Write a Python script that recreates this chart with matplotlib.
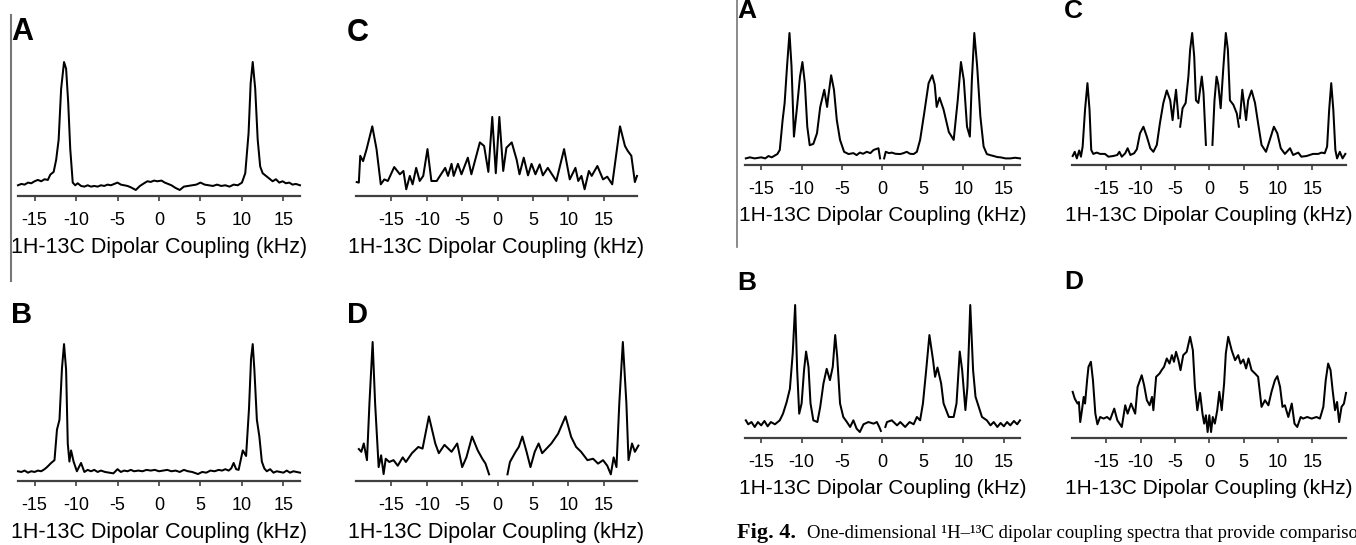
import numpy as np
import matplotlib
matplotlib.use('Agg')
import matplotlib.pyplot as plt
from matplotlib.lines import Line2D

plt.rcParams['font.family'] = ['Liberation Sans', 'DejaVu Sans']
plt.rcParams['axes.unicode_minus'] = False

W, H = 1356, 545
nan = float('nan')

tick_values = [-15, -10, -5, 0, 5, 10, 15]
axis_label = '1H-13C Dipolar Coupling (kHz)'
caption_bold = 'Fig. 4.'
caption_text = 'One-dimensional \u00b9H\u2013\u00b9\u00b3C dipolar coupling spectra that provide compariso'

# spectra: (coupling in kHz, relative intensity); nan breaks the trace
left_a = [(-17, 0.08), (-16.6, 0.09), (-16.2, 0.085), (-15.8, 0.10), (-15.4, 0.095), (-15.0, 0.11),
          (-14.6, 0.12), (-14.2, 0.11), (-13.8, 0.125), (-13.4, 0.12), (-13.1, 0.16), (-12.7, 0.18),
          (-12.4, 0.27), (-12.1, 0.42), (-11.8, 0.80), (-11.45, 1.0), (-11.2, 0.95), (-10.95, 0.70),
          (-10.7, 0.35), (-10.4, 0.10), (-10.1, 0.08), (-9.8, 0.095), (-9.4, 0.075), (-9.0, 0.07),
          (-8.6, 0.08), (-8.2, 0.07), (-7.8, 0.075), (-7.4, 0.07), (-7.0, 0.08), (-6.6, 0.075),
          (-6.2, 0.085), (-5.8, 0.08), (-5.4, 0.09), (-5.0, 0.10), (-4.6, 0.085), (-4.2, 0.08),
          (-3.8, 0.075), (-3.4, 0.065), (-2.8, 0.045), (-2.3, 0.075), (-1.8, 0.095), (-1.4, 0.11),
          (-1.0, 0.105), (-0.6, 0.115), (-0.2, 0.11), (0.3, 0.115), (0.7, 0.10), (1.1, 0.09),
          (1.5, 0.08), (2.0, 0.06), (2.5, 0.045), (3.0, 0.07), (3.5, 0.075), (4.0, 0.08),
          (4.5, 0.085), (5.0, 0.10), (5.5, 0.085), (6.0, 0.08), (6.5, 0.075), (7.0, 0.085),
          (7.5, 0.075), (8.0, 0.08), (8.5, 0.07), (9.0, 0.085), (9.5, 0.08), (10.0, 0.10),
          (10.4, 0.17), (10.8, 0.47), (11.05, 0.84), (11.3, 1.0), (11.6, 0.80), (11.9, 0.42),
          (12.2, 0.22), (12.5, 0.17), (12.9, 0.15), (13.3, 0.13), (13.7, 0.11), (14.1, 0.125),
          (14.5, 0.10), (14.9, 0.11), (15.3, 0.095), (15.7, 0.10), (16.1, 0.085), (16.5, 0.09),
          (17.0, 0.08)]

left_b = [(-17, 0.07), (-16.6, 0.065), (-16.2, 0.075), (-15.8, 0.06), (-15.4, 0.07), (-15.0, 0.065),
          (-14.6, 0.075), (-14.2, 0.07), (-13.8, 0.085), (-13.5, 0.10), (-13.0, 0.13), (-12.6, 0.15),
          (-12.3, 0.37), (-12.0, 0.44), (-11.7, 0.81), (-11.45, 0.985), (-11.2, 0.80), (-11.0, 0.27),
          (-10.8, 0.14), (-10.6, 0.22), (-10.3, 0.14), (-9.9, 0.07), (-9.4, 0.13), (-9.0, 0.065),
          (-8.6, 0.08), (-8.2, 0.07), (-7.8, 0.08), (-7.4, 0.065), (-7.0, 0.075), (-6.5, 0.065),
          (-6.0, 0.06), (-5.5, 0.055), (-5.0, 0.085), (-4.6, 0.065), (-4.2, 0.075), (-3.8, 0.07),
          (-3.4, 0.08), (-3.0, 0.07), (-2.5, 0.075), (-2.0, 0.07), (-1.5, 0.08), (-1.0, 0.075),
          (-0.5, 0.08), (0.0, 0.07), (0.5, 0.075), (1.0, 0.08), (1.5, 0.07), (2.0, 0.075),
          (2.5, 0.065), (3.0, 0.08), (3.5, 0.07), (4.0, 0.065), (4.7, 0.05), (5.2, 0.065),
          (5.7, 0.06), (6.2, 0.075), (6.7, 0.07), (7.2, 0.08), (7.6, 0.075), (8.0, 0.085),
          (8.4, 0.075), (8.7, 0.09), (9.0, 0.13), (9.3, 0.085), (9.6, 0.08), (10.1, 0.22),
          (10.5, 0.18), (10.85, 0.52), (11.1, 0.88), (11.3, 0.985), (11.5, 0.80), (11.8, 0.44),
          (12.1, 0.32), (12.4, 0.14), (12.7, 0.09), (13.0, 0.07), (13.4, 0.085), (13.8, 0.06),
          (14.2, 0.07), (14.6, 0.065), (15.0, 0.06), (15.4, 0.075), (15.8, 0.06), (16.2, 0.07),
          (16.6, 0.065), (17.0, 0.06)]

left_c = [(-19.9, 0.104), (-19.6, 0.10), (-19.4, 0.30), (-19.0, 0.26), (-18.5, 0.35), (-17.7, 0.52),
          (-17.1, 0.35), (-16.5, 0.087), (-16.0, 0.124), (-15.5, 0.112), (-14.6, 0.216), (-13.8, 0.162),
          (-13.3, 0.187), (-12.9, 0.05), (-12.4, 0.15), (-12.0, 0.087), (-11.5, 0.21), (-11.0, 0.112),
          (-10.5, 0.15), (-9.9, 0.35), (-9.35, 0.112), (-8.6, 0.112), (-7.4, 0.21), (-7.0, 0.15),
          (-6.5, 0.24), (-6.2, 0.15), (-5.6, 0.24), (-5.1, 0.162), (-4.2, 0.286), (-3.7, 0.162),
          (-2.5, 0.40), (-1.9, 0.373), (-1.3, 0.18), (-0.75, 0.59), (-0.25, 0.17), (0.25, 0.59),
          (0.8, 0.187), (1.25, 0.36), (2.0, 0.40), (2.7, 0.27), (3.1, 0.162), (3.7, 0.286),
          (4.3, 0.154), (4.8, 0.24), (5.35, 0.162), (5.95, 0.236), (6.4, 0.154), (7.1, 0.21),
          (8.3, 0.112), (9.4, 0.35), (10.2, 0.124), (11.0, 0.21), (11.4, 0.112), (11.85, 0.15),
          (12.3, 0.05), (12.9, 0.187), (13.3, 0.15), (14.1, 0.224), (14.9, 0.124), (15.5, 0.144),
          (16.2, 0.087), (17.3, 0.52), (18.0, 0.373), (18.4, 0.336), (18.9, 0.30), (19.4, 0.104),
          (19.7, 0.15)]

left_d = [(-19.6, 0.23), (-19.25, 0.21), (-18.9, 0.27), (-18.45, 0.15), (-18.1, 0.56), (-17.65, 1.0),
          (-17.3, 0.56), (-16.8, 0.10), (-16.45, 0.185), (-16.1, 0.05), (-15.8, 0.16), (-15.3, 0.137),
          (-14.7, 0.15), (-14.1, 0.11), (-13.4, 0.17), (-12.95, 0.137), (-12.1, 0.20), (-11.2, 0.245),
          (-10.6, 0.233), (-9.7, 0.465), (-8.8, 0.27), (-8.3, 0.20), (-7.5, 0.26), (-6.5, 0.21),
          (-5.7, 0.27), (-5.0, 0.10), (-4.4, 0.17), (-3.6, 0.32), (-2.8, 0.22), (-2.15, 0.16),
          (-1.7, 0.125), (-1.2, 0.048), (nan, nan), (1.4, 0.048), (1.75, 0.137), (2.55, 0.21),
          (3.0, 0.245), (3.5, 0.32), (4.1, 0.21), (4.65, 0.10), (5.25, 0.21), (5.8, 0.27),
          (6.3, 0.20), (7.6, 0.27), (8.55, 0.34), (9.6, 0.465), (10.4, 0.317), (11.1, 0.245),
          (11.8, 0.21), (12.7, 0.15), (13.5, 0.16), (14.2, 0.125), (14.9, 0.15), (15.5, 0.11),
          (16.0, 0.048), (16.4, 0.17), (16.8, 0.10), (17.2, 0.56), (17.7, 1.0), (18.2, 0.56),
          (18.5, 0.15), (19.0, 0.27), (19.4, 0.21), (19.9, 0.255)]

right_a = [(-16.9, 0.05), (-16.4, 0.058), (-15.8, 0.05), (-15.0, 0.058), (-14.5, 0.05), (-14.1, 0.068),
           (-13.7, 0.058), (-13.0, 0.083), (-12.7, 0.114), (-12.35, 0.34), (-12.1, 0.47), (-11.8, 0.75),
           (-11.5, 1.0), (-11.25, 0.75), (-10.95, 0.215), (-10.6, 0.42), (-10.2, 0.67), (-9.9, 0.78),
           (-9.6, 0.62), (-9.3, 0.29), (-9.0, 0.15), (-8.55, 0.16), (-8.1, 0.24), (-7.7, 0.44),
           (-7.2, 0.57), (-6.85, 0.44), (-6.7, 0.52), (-6.35, 0.68), (-6.0, 0.57), (-5.65, 0.34),
           (-5.25, 0.19), (-4.75, 0.10), (-4.2, 0.083), (-3.6, 0.09), (-3.2, 0.075), (-2.8, 0.094),
           (-2.4, 0.085), (-1.95, 0.10), (-1.5, 0.09), (-1.1, 0.114), (-0.5, 0.127), (-0.3, 0.05),
           (nan, nan), (0.2, 0.05), (0.4, 0.10), (0.8, 0.09), (1.15, 0.094), (1.6, 0.085),
           (2.2, 0.083), (2.6, 0.09), (3.0, 0.10), (3.4, 0.085), (3.85, 0.083), (4.25, 0.10),
           (4.65, 0.19), (5.15, 0.39), (5.7, 0.62), (6.15, 0.68), (6.45, 0.61), (6.7, 0.44),
           (7.05, 0.51), (7.55, 0.42), (8.2, 0.25), (8.8, 0.19), (9.3, 0.49), (9.7, 0.78),
           (10.05, 0.645), (10.45, 0.29), (10.8, 0.215), (11.05, 0.645), (11.35, 1.0), (11.7, 0.75),
           (12.1, 0.367), (12.5, 0.14), (12.9, 0.083), (13.3, 0.075), (13.75, 0.068), (14.2, 0.06),
           (14.6, 0.058), (15.2, 0.05), (15.8, 0.05), (16.4, 0.055), (17.0, 0.05)]

right_b = [(-16.9, 0.133), (-16.6, 0.103), (-16.2, 0.12), (-15.8, 0.083), (-15.4, 0.12), (-15.0, 0.095),
           (-14.6, 0.128), (-14.2, 0.088), (-13.8, 0.12), (-13.3, 0.103), (-12.7, 0.133), (-12.3, 0.183),
           (-11.85, 0.27), (-11.45, 0.37), (-11.1, 0.636), (-10.8, 1.0), (-10.55, 0.51), (-10.3, 0.183),
           (-10.0, 0.26), (-9.7, 0.51), (-9.45, 0.65), (-9.15, 0.535), (-8.9, 0.26), (-8.55, 0.133),
           (-8.05, 0.12), (-7.7, 0.234), (-7.3, 0.41), (-6.9, 0.52), (-6.5, 0.435), (-6.15, 0.535),
           (-5.85, 0.774), (-5.6, 0.61), (-5.25, 0.26), (-4.85, 0.158), (-4.4, 0.12), (-4.0, 0.083),
           (-3.6, 0.133), (-3.2, 0.07), (-2.8, 0.045), (-2.35, 0.103), (-1.75, 0.12), (-1.1, 0.108),
           (-0.7, 0.12), (-0.4, 0.083), (-0.2, 0.053), (nan, nan), (0.35, 0.083), (0.55, 0.12),
           (1.15, 0.133), (1.8, 0.095), (2.2, 0.12), (2.8, 0.083), (3.35, 0.12), (3.85, 0.103),
           (4.25, 0.158), (4.65, 0.133), (5.0, 0.26), (5.4, 0.51), (5.8, 0.774), (6.25, 0.585),
           (6.5, 0.46), (6.8, 0.53), (7.25, 0.41), (7.55, 0.26), (8.2, 0.158), (8.8, 0.158),
           (9.15, 0.26), (9.55, 0.65), (9.85, 0.51), (10.25, 0.21), (10.5, 0.384), (10.85, 1.0),
           (11.2, 0.51), (11.5, 0.31), (11.9, 0.234), (12.3, 0.158), (12.9, 0.133), (13.35, 0.095),
           (13.75, 0.12), (14.2, 0.083), (14.6, 0.113), (15.0, 0.088), (15.4, 0.12), (15.8, 0.095),
           (16.25, 0.128), (16.65, 0.103), (17.0, 0.133)]

right_c = [(-19.9, 0.068), (-19.6, 0.10), (-19.3, 0.05), (-18.95, 0.11), (-18.7, 0.063), (-18.45, 0.14),
           (-18.1, 0.42), (-17.75, 0.62), (-17.45, 0.42), (-17.2, 0.114), (-16.9, 0.084), (-16.4, 0.094),
           (-15.9, 0.084), (-15.2, 0.084), (-14.7, 0.063), (-14.0, 0.068), (-13.4, 0.076), (-13.1, 0.10),
           (-12.75, 0.063), (-12.25, 0.089), (-11.9, 0.127), (-11.5, 0.076), (-10.95, 0.089),
           (-10.55, 0.12), (-10.1, 0.24), (-9.6, 0.29), (-9.1, 0.215), (-8.6, 0.127), (-8.15, 0.10),
           (-7.65, 0.152), (-7.2, 0.316), (-6.7, 0.47), (-6.2, 0.565), (-5.7, 0.49), (-5.35, 0.34),
           (-5.15, 0.443), (-4.85, 0.57), (-4.5, 0.354), (nan, nan), (-4.25, 0.29), (-3.9, 0.43),
           (-3.45, 0.47), (-3.05, 0.67), (-2.8, 0.873), (-2.5, 1.0), (-2.2, 0.82), (-1.95, 0.49),
           (-1.6, 0.47), (-1.1, 0.67), (-0.85, 0.544), (-0.5, 0.152), (nan, nan), (0.45, 0.152),
           (0.75, 0.49), (1.05, 0.67), (1.3, 0.61), (1.65, 0.43), (2.05, 0.747), (2.4, 1.0),
           (2.7, 0.873), (3.0, 0.49), (3.5, 0.456), (4.0, 0.39), (4.3, 0.29), (nan, nan),
           (4.45, 0.354), (4.8, 0.57), (5.1, 0.443), (5.35, 0.34), (5.65, 0.49), (6.15, 0.565),
           (6.65, 0.47), (7.1, 0.316), (7.6, 0.152), (8.25, 0.10), (8.8, 0.19), (9.4, 0.29),
           (9.9, 0.24), (10.4, 0.127), (11.0, 0.084), (11.75, 0.127), (12.2, 0.076), (12.95, 0.094),
           (13.4, 0.063), (14.15, 0.068), (15.1, 0.084), (15.85, 0.084), (16.35, 0.094), (16.8, 0.089),
           (17.15, 0.14), (17.45, 0.42), (17.75, 0.62), (18.05, 0.42), (18.35, 0.114), (18.6, 0.05),
           (19.0, 0.10), (19.4, 0.05), (19.8, 0.084)]

right_d = [(-19.9, 0.347), (-19.6, 0.296), (-19.2, 0.259), (-19.0, 0.271), (-18.8, 0.12), (-18.55, 0.209),
           (-18.3, 0.309), (-18.1, 0.259), (-17.8, 0.435), (-17.6, 0.535), (-17.25, 0.573), (-16.95, 0.435),
           (-16.6, 0.183), (-16.3, 0.103), (-15.9, 0.158), (-15.4, 0.146), (-14.9, 0.158), (-14.45, 0.138),
           (-13.85, 0.221), (-13.4, 0.133), (-12.75, 0.083), (-12.25, 0.246), (-11.9, 0.183), (-11.4, 0.259),
           (-10.8, 0.183), (-10.45, 0.384), (-10.1, 0.435), (-9.85, 0.472), (-9.5, 0.397), (-9.1, 0.284),
           (-8.7, 0.246), (-8.35, 0.309), (-8.15, 0.209), (-7.75, 0.46), (-7.25, 0.485), (-6.95, 0.51),
           (-6.6, 0.535), (-6.2, 0.598), (-5.8, 0.56), (-5.45, 0.623), (-5.15, 0.573), (-4.85, 0.648),
           (-4.5, 0.585), (-4.2, 0.51), (-3.8, 0.623), (-3.3, 0.648), (-2.8, 0.761), (-2.4, 0.66),
           (-2.1, 0.384), (-1.75, 0.209), (-1.35, 0.339), (-1.0, 0.183), (-0.75, 0.108), (-0.5, 0.171),
           (-0.25, 0.045), (0.0, 0.171), (0.25, 0.045), (0.5, 0.158), (0.8, 0.108), (1.15, 0.209),
           (1.45, 0.347), (1.8, 0.209), (2.15, 0.41), (2.4, 0.636), (2.75, 0.761), (3.25, 0.66),
           (3.75, 0.585), (4.2, 0.623), (4.55, 0.56), (4.95, 0.59), (5.35, 0.523), (5.7, 0.598),
           (6.15, 0.51), (6.65, 0.485), (7.1, 0.46), (7.6, 0.234), (8.1, 0.284), (8.6, 0.246),
           (9.05, 0.347), (9.55, 0.435), (9.9, 0.465), (10.3, 0.384), (10.65, 0.234), (11.0, 0.246),
           (11.5, 0.158), (12.0, 0.259), (12.4, 0.108), (12.8, 0.083), (13.3, 0.158), (13.65, 0.146),
           (14.25, 0.158), (14.9, 0.146), (15.6, 0.158), (16.1, 0.146), (16.6, 0.234), (16.95, 0.435),
           (17.3, 0.56), (17.65, 0.51), (17.95, 0.36), (18.3, 0.209), (18.6, 0.271), (18.9, 0.12),
           (19.25, 0.234), (19.6, 0.259), (19.9, 0.339)]


def draw_panel(fig, box, xlim, trace, letter, letter_xy, letter_size, label_size):
    """
    box is (left px, right px, axis line px, top px) measured from the top left corner
    """
    x0, x1, y_axis, y_top = box
    ax = fig.add_axes([x0 / W, 1 - y_axis / H, (x1 - x0) / W, (y_axis - y_top) / H])
    xs = [p[0] for p in trace]
    ys = [p[1] for p in trace]
    ax.plot(xs, ys, color='black', lw=1.45, clip_on=False)
    ax.set_xlim(xlim)
    ax.set_ylim(0, 1)
    for side in ['left', 'right', 'top']:
        ax.spines[side].set_visible(False)
    ax.spines['bottom'].set_color('#404040')
    ax.spines['bottom'].set_linewidth(1.6)
    ax.set_yticks([])
    ax.set_xticks(tick_values)
    ax.tick_params(axis='x', direction='out', length=3.5, width=1.2, color='#404040',
                   labelsize=13, pad=8)
    ax.set_xlabel(axis_label, fontsize=label_size, labelpad=5.5)
    ax.patch.set_alpha(0)
    fig.text(letter_xy[0] / W, 1 - letter_xy[1] / H, letter, fontsize=letter_size,
             fontweight='bold', ha='left', va='baseline')
    return ax


fig = plt.figure(figsize=(W / 100, H / 100), dpi=100)

# left figure
draw_panel(fig, (18, 300, 196, 62), (-17, 17), left_a, 'A', (11, 40), 22, 15.5)
draw_panel(fig, (356, 637, 196, 62), (-20, 19.7), left_c, 'C', (347, 41), 22, 15.5)
draw_panel(fig, (18, 300, 481, 342), (-17, 17), left_b, 'B', (11, 323), 21, 15.5)
draw_panel(fig, (356, 637, 481, 342), (-20, 19.7), left_d, 'D', (347, 323), 21, 15.5)

# right figure
draw_panel(fig, (745, 1020, 165, 33), (-17, 17), right_a, 'A', (737, 18), 19, 15)
draw_panel(fig, (1072, 1346, 165, 33), (-20, 19.9), right_c, 'C', (1064, 18), 19, 15)
draw_panel(fig, (745, 1020, 438, 305), (-17, 17), right_b, 'B', (737, 290), 19, 15)
draw_panel(fig, (1072, 1346, 438, 305), (-20, 19.9), right_d, 'D', (1064, 289), 19, 15)

# page edges left in the screenshot
fig.add_artist(Line2D([11 / W, 11 / W], [1 - 15 / H, 1 - 281 / H], color='#777777', lw=1.5))
fig.add_artist(Line2D([737 / W, 737 / W], [1, 1 - 247 / H], color='#777777', lw=1.2))

fig.text(737 / W, 1 - 538 / H, caption_bold, fontsize=16, fontweight='bold',
         family=['Liberation Serif', 'DejaVu Serif'], ha='left', va='baseline')
fig.text(807 / W, 1 - 538 / H, caption_text, fontsize=13.5,
         family=['Liberation Serif', 'DejaVu Serif'], ha='left', va='baseline')

plt.savefig('out.png', dpi=100)
